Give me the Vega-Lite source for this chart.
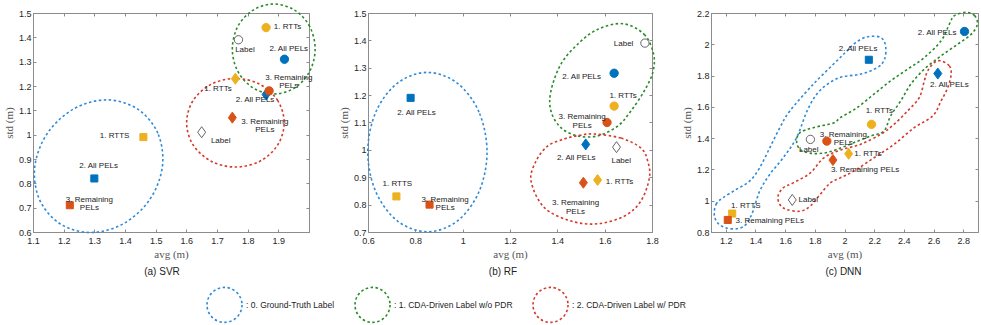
{
"$schema": "https://vega.github.io/schema/vega-lite/v6.json",
"background": "white",
"padding": {"left": 2, "top": 0, "right": 0, "bottom": 0},
"config": {
 "view": {"stroke": "#8c8c8c", "strokeWidth": 1},
 "axis": {"grid": false, "domainColor": "#8c8c8c", "tickColor": "#8c8c8c", "labelFont": "Liberation Sans", "labelFontSize": 9, "labelColor": "#262626", "titleFont": "Liberation Serif", "titleFontSize": 11, "titleFontWeight": "normal", "titleColor": "#555555", "tickSize": -3, "labelFlush": false, "labelOverlap": false, "format": "~g"},
 "axisX": {"labelPadding": 7, "titlePadding": 3},
 "axisY": {"labelPadding": 5, "titlePadding": 4},
 "title": {"font": "Liberation Sans", "fontSize": 10, "fontWeight": "normal", "color": "#222222", "orient": "bottom", "offset": 8}
},
"datasets": {
 "shapes": [
  {"p":"a","g":"0. Ground-Truth Label","i":0,"x":1.522,"y":0.870},
  {"p":"a","g":"0. Ground-Truth Label","i":1,"x":1.507,"y":1.006},
  {"p":"a","g":"0. Ground-Truth Label","i":2,"x":1.440,"y":1.106},
  {"p":"a","g":"0. Ground-Truth Label","i":3,"x":1.340,"y":1.143},
  {"p":"a","g":"0. Ground-Truth Label","i":4,"x":1.233,"y":1.106},
  {"p":"a","g":"0. Ground-Truth Label","i":5,"x":1.147,"y":1.006},
  {"p":"a","g":"0. Ground-Truth Label","i":6,"x":1.106,"y":0.870},
  {"p":"a","g":"0. Ground-Truth Label","i":7,"x":1.121,"y":0.734},
  {"p":"a","g":"0. Ground-Truth Label","i":8,"x":1.188,"y":0.634},
  {"p":"a","g":"0. Ground-Truth Label","i":9,"x":1.288,"y":0.598},
  {"p":"a","g":"0. Ground-Truth Label","i":10,"x":1.395,"y":0.634},
  {"p":"a","g":"0. Ground-Truth Label","i":11,"x":1.481,"y":0.734},
  {"p":"a","g":"1. CDA-Driven Label w/o PDR","i":0,"x":2.020,"y":1.352},
  {"p":"a","g":"1. CDA-Driven Label w/o PDR","i":1,"x":2.002,"y":1.445},
  {"p":"a","g":"1. CDA-Driven Label w/o PDR","i":2,"x":1.953,"y":1.512},
  {"p":"a","g":"1. CDA-Driven Label w/o PDR","i":3,"x":1.885,"y":1.537},
  {"p":"a","g":"1. CDA-Driven Label w/o PDR","i":4,"x":1.818,"y":1.512},
  {"p":"a","g":"1. CDA-Driven Label w/o PDR","i":5,"x":1.768,"y":1.445},
  {"p":"a","g":"1. CDA-Driven Label w/o PDR","i":6,"x":1.750,"y":1.352},
  {"p":"a","g":"1. CDA-Driven Label w/o PDR","i":7,"x":1.768,"y":1.260},
  {"p":"a","g":"1. CDA-Driven Label w/o PDR","i":8,"x":1.818,"y":1.192},
  {"p":"a","g":"1. CDA-Driven Label w/o PDR","i":9,"x":1.885,"y":1.167},
  {"p":"a","g":"1. CDA-Driven Label w/o PDR","i":10,"x":1.953,"y":1.192},
  {"p":"a","g":"1. CDA-Driven Label w/o PDR","i":11,"x":2.002,"y":1.260},
  {"p":"a","g":"2. CDA-Driven Label w/ PDR","i":0,"x":1.919,"y":1.049},
  {"p":"a","g":"2. CDA-Driven Label w/ PDR","i":1,"x":1.898,"y":1.140},
  {"p":"a","g":"2. CDA-Driven Label w/ PDR","i":2,"x":1.840,"y":1.207},
  {"p":"a","g":"2. CDA-Driven Label w/ PDR","i":3,"x":1.760,"y":1.231},
  {"p":"a","g":"2. CDA-Driven Label w/ PDR","i":4,"x":1.681,"y":1.207},
  {"p":"a","g":"2. CDA-Driven Label w/ PDR","i":5,"x":1.622,"y":1.140},
  {"p":"a","g":"2. CDA-Driven Label w/ PDR","i":6,"x":1.601,"y":1.049},
  {"p":"a","g":"2. CDA-Driven Label w/ PDR","i":7,"x":1.622,"y":0.958},
  {"p":"a","g":"2. CDA-Driven Label w/ PDR","i":8,"x":1.681,"y":0.891},
  {"p":"a","g":"2. CDA-Driven Label w/ PDR","i":9,"x":1.760,"y":0.867},
  {"p":"a","g":"2. CDA-Driven Label w/ PDR","i":10,"x":1.840,"y":0.891},
  {"p":"a","g":"2. CDA-Driven Label w/ PDR","i":11,"x":1.898,"y":0.958},

  {"p":"b","g":"0. Ground-Truth Label","i":0,"x":1.103,"y":0.992},
  {"p":"b","g":"0. Ground-Truth Label","i":1,"x":1.069,"y":1.138},
  {"p":"b","g":"0. Ground-Truth Label","i":2,"x":0.977,"y":1.244},
  {"p":"b","g":"0. Ground-Truth Label","i":3,"x":0.851,"y":1.283},
  {"p":"b","g":"0. Ground-Truth Label","i":4,"x":0.725,"y":1.244},
  {"p":"b","g":"0. Ground-Truth Label","i":5,"x":0.633,"y":1.138},
  {"p":"b","g":"0. Ground-Truth Label","i":6,"x":0.599,"y":0.992},
  {"p":"b","g":"0. Ground-Truth Label","i":7,"x":0.633,"y":0.847},
  {"p":"b","g":"0. Ground-Truth Label","i":8,"x":0.725,"y":0.740},
  {"p":"b","g":"0. Ground-Truth Label","i":9,"x":0.851,"y":0.701},
  {"p":"b","g":"0. Ground-Truth Label","i":10,"x":0.977,"y":0.740},
  {"p":"b","g":"0. Ground-Truth Label","i":11,"x":1.069,"y":0.847},
  {"p":"b","g":"1. CDA-Driven Label w/o PDR","i":0,"x":1.676,"y":1.461},
  {"p":"b","g":"1. CDA-Driven Label w/o PDR","i":1,"x":1.767,"y":1.422},
  {"p":"b","g":"1. CDA-Driven Label w/o PDR","i":2,"x":1.807,"y":1.349},
  {"p":"b","g":"1. CDA-Driven Label w/o PDR","i":3,"x":1.803,"y":1.282},
  {"p":"b","g":"1. CDA-Driven Label w/o PDR","i":4,"x":1.767,"y":1.215},
  {"p":"b","g":"1. CDA-Driven Label w/o PDR","i":5,"x":1.711,"y":1.142},
  {"p":"b","g":"1. CDA-Driven Label w/o PDR","i":6,"x":1.655,"y":1.087},
  {"p":"b","g":"1. CDA-Driven Label w/o PDR","i":7,"x":1.570,"y":1.051},
  {"p":"b","g":"1. CDA-Driven Label w/o PDR","i":8,"x":1.486,"y":1.051},
  {"p":"b","g":"1. CDA-Driven Label w/o PDR","i":9,"x":1.415,"y":1.081},
  {"p":"b","g":"1. CDA-Driven Label w/o PDR","i":10,"x":1.373,"y":1.142},
  {"p":"b","g":"1. CDA-Driven Label w/o PDR","i":11,"x":1.373,"y":1.215},
  {"p":"b","g":"1. CDA-Driven Label w/o PDR","i":12,"x":1.415,"y":1.313},
  {"p":"b","g":"1. CDA-Driven Label w/o PDR","i":13,"x":1.486,"y":1.386},
  {"p":"b","g":"1. CDA-Driven Label w/o PDR","i":14,"x":1.570,"y":1.440},
  {"p":"b","g":"2. CDA-Driven Label w/ PDR","i":0,"x":1.555,"y":1.058},
  {"p":"b","g":"2. CDA-Driven Label w/ PDR","i":1,"x":1.669,"y":1.043},
  {"p":"b","g":"2. CDA-Driven Label w/ PDR","i":2,"x":1.753,"y":1.007},
  {"p":"b","g":"2. CDA-Driven Label w/ PDR","i":3,"x":1.782,"y":0.959},
  {"p":"b","g":"2. CDA-Driven Label w/ PDR","i":4,"x":1.789,"y":0.898},
  {"p":"b","g":"2. CDA-Driven Label w/ PDR","i":5,"x":1.753,"y":0.813},
  {"p":"b","g":"2. CDA-Driven Label w/ PDR","i":6,"x":1.683,"y":0.758},
  {"p":"b","g":"2. CDA-Driven Label w/ PDR","i":7,"x":1.570,"y":0.730},
  {"p":"b","g":"2. CDA-Driven Label w/ PDR","i":8,"x":1.458,"y":0.740},
  {"p":"b","g":"2. CDA-Driven Label w/ PDR","i":9,"x":1.345,"y":0.789},
  {"p":"b","g":"2. CDA-Driven Label w/ PDR","i":10,"x":1.289,"y":0.886},
  {"p":"b","g":"2. CDA-Driven Label w/ PDR","i":11,"x":1.310,"y":0.959},
  {"p":"b","g":"2. CDA-Driven Label w/ PDR","i":12,"x":1.359,"y":1.014},
  {"p":"b","g":"2. CDA-Driven Label w/ PDR","i":13,"x":1.429,"y":1.040},
  {"p":"b","g":"2. CDA-Driven Label w/ PDR","i":14,"x":1.493,"y":1.053},

  {"p":"c","g":"0. Ground-Truth Label","i":0,"x":1.122,"y":0.912},
  {"p":"c","g":"0. Ground-Truth Label","i":1,"x":1.134,"y":0.976},
  {"p":"c","g":"0. Ground-Truth Label","i":2,"x":1.179,"y":1.018},
  {"p":"c","g":"0. Ground-Truth Label","i":3,"x":1.270,"y":1.072},
  {"p":"c","g":"0. Ground-Truth Label","i":4,"x":1.360,"y":1.125},
  {"p":"c","g":"0. Ground-Truth Label","i":5,"x":1.428,"y":1.210},
  {"p":"c","g":"0. Ground-Truth Label","i":6,"x":1.496,"y":1.338},
  {"p":"c","g":"0. Ground-Truth Label","i":7,"x":1.564,"y":1.467},
  {"p":"c","g":"0. Ground-Truth Label","i":8,"x":1.632,"y":1.574},
  {"p":"c","g":"0. Ground-Truth Label","i":9,"x":1.790,"y":1.745},
  {"p":"c","g":"0. Ground-Truth Label","i":10,"x":1.960,"y":1.905},
  {"p":"c","g":"0. Ground-Truth Label","i":11,"x":2.017,"y":1.958},
  {"p":"c","g":"0. Ground-Truth Label","i":12,"x":2.074,"y":2.010},
  {"p":"c","g":"0. Ground-Truth Label","i":13,"x":2.153,"y":2.048},
  {"p":"c","g":"0. Ground-Truth Label","i":14,"x":2.243,"y":2.044},
  {"p":"c","g":"0. Ground-Truth Label","i":15,"x":2.277,"y":1.990},
  {"p":"c","g":"0. Ground-Truth Label","i":16,"x":2.270,"y":1.905},
  {"p":"c","g":"0. Ground-Truth Label","i":17,"x":2.221,"y":1.851},
  {"p":"c","g":"0. Ground-Truth Label","i":18,"x":2.107,"y":1.809},
  {"p":"c","g":"0. Ground-Truth Label","i":19,"x":1.960,"y":1.785},
  {"p":"c","g":"0. Ground-Truth Label","i":20,"x":1.836,"y":1.706},
  {"p":"c","g":"0. Ground-Truth Label","i":21,"x":1.754,"y":1.587},
  {"p":"c","g":"0. Ground-Truth Label","i":22,"x":1.677,"y":1.403},
  {"p":"c","g":"0. Ground-Truth Label","i":23,"x":1.586,"y":1.274},
  {"p":"c","g":"0. Ground-Truth Label","i":24,"x":1.496,"y":1.168},
  {"p":"c","g":"0. Ground-Truth Label","i":25,"x":1.428,"y":1.061},
  {"p":"c","g":"0. Ground-Truth Label","i":26,"x":1.383,"y":0.933},
  {"p":"c","g":"0. Ground-Truth Label","i":27,"x":1.338,"y":0.851},
  {"p":"c","g":"0. Ground-Truth Label","i":28,"x":1.281,"y":0.822},
  {"p":"c","g":"0. Ground-Truth Label","i":29,"x":1.202,"y":0.826},
  {"p":"c","g":"0. Ground-Truth Label","i":30,"x":1.145,"y":0.858},
  {"p":"c","g":"1. CDA-Driven Label w/o PDR","i":0,"x":2.821,"y":2.204},
  {"p":"c","g":"1. CDA-Driven Label w/o PDR","i":1,"x":2.877,"y":2.183},
  {"p":"c","g":"1. CDA-Driven Label w/o PDR","i":2,"x":2.896,"y":2.129},
  {"p":"c","g":"1. CDA-Driven Label w/o PDR","i":3,"x":2.855,"y":2.065},
  {"p":"c","g":"1. CDA-Driven Label w/o PDR","i":4,"x":2.764,"y":2.001},
  {"p":"c","g":"1. CDA-Driven Label w/o PDR","i":5,"x":2.651,"y":1.926},
  {"p":"c","g":"1. CDA-Driven Label w/o PDR","i":6,"x":2.538,"y":1.841},
  {"p":"c","g":"1. CDA-Driven Label w/o PDR","i":7,"x":2.447,"y":1.745},
  {"p":"c","g":"1. CDA-Driven Label w/o PDR","i":8,"x":2.379,"y":1.638},
  {"p":"c","g":"1. CDA-Driven Label w/o PDR","i":9,"x":2.311,"y":1.542},
  {"p":"c","g":"1. CDA-Driven Label w/o PDR","i":10,"x":2.266,"y":1.446},
  {"p":"c","g":"1. CDA-Driven Label w/o PDR","i":11,"x":2.175,"y":1.413},
  {"p":"c","g":"1. CDA-Driven Label w/o PDR","i":12,"x":2.062,"y":1.371},
  {"p":"c","g":"1. CDA-Driven Label w/o PDR","i":13,"x":1.949,"y":1.328},
  {"p":"c","g":"1. CDA-Driven Label w/o PDR","i":14,"x":1.858,"y":1.304},
  {"p":"c","g":"1. CDA-Driven Label w/o PDR","i":15,"x":1.768,"y":1.304},
  {"p":"c","g":"1. CDA-Driven Label w/o PDR","i":16,"x":1.700,"y":1.328},
  {"p":"c","g":"1. CDA-Driven Label w/o PDR","i":17,"x":1.677,"y":1.381},
  {"p":"c","g":"1. CDA-Driven Label w/o PDR","i":18,"x":1.700,"y":1.435},
  {"p":"c","g":"1. CDA-Driven Label w/o PDR","i":19,"x":1.790,"y":1.467},
  {"p":"c","g":"1. CDA-Driven Label w/o PDR","i":20,"x":1.926,"y":1.497},
  {"p":"c","g":"1. CDA-Driven Label w/o PDR","i":21,"x":1.972,"y":1.531},
  {"p":"c","g":"1. CDA-Driven Label w/o PDR","i":22,"x":2.085,"y":1.595},
  {"p":"c","g":"1. CDA-Driven Label w/o PDR","i":23,"x":2.198,"y":1.681},
  {"p":"c","g":"1. CDA-Driven Label w/o PDR","i":24,"x":2.311,"y":1.766},
  {"p":"c","g":"1. CDA-Driven Label w/o PDR","i":25,"x":2.425,"y":1.841},
  {"p":"c","g":"1. CDA-Driven Label w/o PDR","i":26,"x":2.538,"y":1.915},
  {"p":"c","g":"1. CDA-Driven Label w/o PDR","i":27,"x":2.651,"y":2.022},
  {"p":"c","g":"1. CDA-Driven Label w/o PDR","i":28,"x":2.707,"y":2.129},
  {"p":"c","g":"1. CDA-Driven Label w/o PDR","i":29,"x":2.741,"y":2.183},
  {"p":"c","g":"2. CDA-Driven Label w/ PDR","i":0,"x":2.651,"y":1.894},
  {"p":"c","g":"2. CDA-Driven Label w/ PDR","i":1,"x":2.707,"y":1.862},
  {"p":"c","g":"2. CDA-Driven Label w/ PDR","i":2,"x":2.719,"y":1.809},
  {"p":"c","g":"2. CDA-Driven Label w/ PDR","i":3,"x":2.696,"y":1.723},
  {"p":"c","g":"2. CDA-Driven Label w/ PDR","i":4,"x":2.651,"y":1.638},
  {"p":"c","g":"2. CDA-Driven Label w/ PDR","i":5,"x":2.595,"y":1.542},
  {"p":"c","g":"2. CDA-Driven Label w/ PDR","i":6,"x":2.470,"y":1.467},
  {"p":"c","g":"2. CDA-Driven Label w/ PDR","i":7,"x":2.334,"y":1.360},
  {"p":"c","g":"2. CDA-Driven Label w/ PDR","i":8,"x":2.198,"y":1.274},
  {"p":"c","g":"2. CDA-Driven Label w/ PDR","i":9,"x":2.062,"y":1.189},
  {"p":"c","g":"2. CDA-Driven Label w/ PDR","i":10,"x":1.972,"y":1.146},
  {"p":"c","g":"2. CDA-Driven Label w/ PDR","i":11,"x":1.904,"y":1.114},
  {"p":"c","g":"2. CDA-Driven Label w/ PDR","i":12,"x":1.836,"y":1.040},
  {"p":"c","g":"2. CDA-Driven Label w/ PDR","i":13,"x":1.768,"y":0.965},
  {"p":"c","g":"2. CDA-Driven Label w/ PDR","i":14,"x":1.700,"y":0.933},
  {"p":"c","g":"2. CDA-Driven Label w/ PDR","i":15,"x":1.610,"y":0.944},
  {"p":"c","g":"2. CDA-Driven Label w/ PDR","i":16,"x":1.564,"y":0.976},
  {"p":"c","g":"2. CDA-Driven Label w/ PDR","i":17,"x":1.552,"y":1.029},
  {"p":"c","g":"2. CDA-Driven Label w/ PDR","i":18,"x":1.586,"y":1.082},
  {"p":"c","g":"2. CDA-Driven Label w/ PDR","i":19,"x":1.654,"y":1.114},
  {"p":"c","g":"2. CDA-Driven Label w/ PDR","i":20,"x":1.768,"y":1.176},
  {"p":"c","g":"2. CDA-Driven Label w/ PDR","i":21,"x":1.858,"y":1.272},
  {"p":"c","g":"2. CDA-Driven Label w/ PDR","i":22,"x":1.972,"y":1.324},
  {"p":"c","g":"2. CDA-Driven Label w/ PDR","i":23,"x":2.107,"y":1.360},
  {"p":"c","g":"2. CDA-Driven Label w/ PDR","i":24,"x":2.243,"y":1.424},
  {"p":"c","g":"2. CDA-Driven Label w/ PDR","i":25,"x":2.334,"y":1.488},
  {"p":"c","g":"2. CDA-Driven Label w/ PDR","i":26,"x":2.425,"y":1.574},
  {"p":"c","g":"2. CDA-Driven Label w/ PDR","i":27,"x":2.504,"y":1.659},
  {"p":"c","g":"2. CDA-Driven Label w/ PDR","i":28,"x":2.538,"y":1.766},
  {"p":"c","g":"2. CDA-Driven Label w/ PDR","i":29,"x":2.561,"y":1.830},
  {"p":"c","g":"2. CDA-Driven Label w/ PDR","i":30,"x":2.605,"y":1.883}
 ],
 "points": [
  {"p":"a","m":"ground truth","s":"RTTs","x":1.46,"y":0.99},
  {"p":"a","m":"ground truth","s":"All PELs","x":1.30,"y":0.82},
  {"p":"a","m":"ground truth","s":"Remaining PELs","x":1.22,"y":0.71},
  {"p":"a","m":"without PDR","s":"Label","x":1.77,"y":1.39},
  {"p":"a","m":"without PDR","s":"RTTs","x":1.86,"y":1.44},
  {"p":"a","m":"without PDR","s":"All PELs","x":1.92,"y":1.31},
  {"p":"a","m":"with PDR","s":"All PELs","x":1.86,"y":1.165},
  {"p":"a","m":"without PDR","s":"Remaining PELs","x":1.87,"y":1.18},
  {"p":"a","m":"with PDR","s":"RTTs","x":1.76,"y":1.23},
  {"p":"a","m":"with PDR","s":"Remaining PELs","x":1.75,"y":1.07},
  {"p":"a","m":"with PDR","s":"Label","x":1.65,"y":1.01},
  {"p":"b","m":"ground truth","s":"RTTs","x":0.72,"y":0.83},
  {"p":"b","m":"ground truth","s":"All PELs","x":0.78,"y":1.19},
  {"p":"b","m":"ground truth","s":"Remaining PELs","x":0.86,"y":0.80},
  {"p":"b","m":"without PDR","s":"Label","x":1.77,"y":1.39},
  {"p":"b","m":"without PDR","s":"All PELs","x":1.64,"y":1.28},
  {"p":"b","m":"without PDR","s":"RTTs","x":1.64,"y":1.16},
  {"p":"b","m":"without PDR","s":"Remaining PELs","x":1.61,"y":1.10},
  {"p":"b","m":"with PDR","s":"All PELs","x":1.52,"y":1.02},
  {"p":"b","m":"with PDR","s":"Label","x":1.65,"y":1.01},
  {"p":"b","m":"with PDR","s":"Remaining PELs","x":1.51,"y":0.88},
  {"p":"b","m":"with PDR","s":"RTTs","x":1.57,"y":0.89},
  {"p":"c","m":"ground truth","s":"RTTs","x":1.243,"y":0.918},
  {"p":"c","m":"ground truth","s":"Remaining PELs","x":1.213,"y":0.877},
  {"p":"c","m":"ground truth","s":"All PELs","x":2.164,"y":1.901},
  {"p":"c","m":"without PDR","s":"All PELs","x":2.809,"y":2.082},
  {"p":"c","m":"without PDR","s":"RTTs","x":2.182,"y":1.488},
  {"p":"c","m":"without PDR","s":"Remaining PELs","x":1.881,"y":1.381},
  {"p":"c","m":"without PDR","s":"Label","x":1.770,"y":1.392},
  {"p":"c","m":"with PDR","s":"All PELs","x":2.629,"y":1.813},
  {"p":"c","m":"with PDR","s":"RTTs","x":2.028,"y":1.300},
  {"p":"c","m":"with PDR","s":"Remaining PELs","x":1.922,"y":1.260},
  {"p":"c","m":"with PDR","s":"Label","x":1.648,"y":1.005}
 ],
 "labels": [
  {"p":"a","t":"1. RTTs","x":1.930,"y":1.442},
  {"p":"a","t":"Label","x":1.791,"y":1.347},
  {"p":"a","t":"2. All PELs","x":1.934,"y":1.352},
  {"p":"a","t":"3. Remaining\nPELs","x":1.934,"y":1.233},
  {"p":"a","t":"1. RTTs","x":1.703,"y":1.186},
  {"p":"a","t":"2. All PELs","x":1.824,"y":1.142},
  {"p":"a","t":"3. Remaining\nPELs","x":1.856,"y":1.054},
  {"p":"a","t":"Label","x":1.712,"y":0.974},
  {"p":"a","t":"1. RTTS","x":1.366,"y":0.994},
  {"p":"a","t":"2. All PELs","x":1.314,"y":0.871},
  {"p":"a","t":"3. Remaining\nPELs","x":1.284,"y":0.733},
  {"p":"b","t":"Label","x":1.680,"y":1.388},
  {"p":"b","t":"2. All PELs","x":1.503,"y":1.267},
  {"p":"b","t":"1. RTTs","x":1.678,"y":1.197},
  {"p":"b","t":"3. Remaining\nPELs","x":1.505,"y":1.119},
  {"p":"b","t":"2. All PELs","x":0.805,"y":1.136},
  {"p":"b","t":"2. All PELs","x":1.480,"y":0.969},
  {"p":"b","t":"Label","x":1.670,"y":0.959},
  {"p":"b","t":"1. RTTs","x":1.663,"y":0.884},
  {"p":"b","t":"3. Remaining\nPELs","x":1.477,"y":0.805},
  {"p":"b","t":"1. RTTS","x":0.724,"y":0.874},
  {"p":"b","t":"3. Remaining\nPELs","x":0.926,"y":0.818},
  {"p":"c","t":"2. All PELs","x":2.624,"y":2.069},
  {"p":"c","t":"2. All PELs","x":2.092,"y":1.973},
  {"p":"c","t":"2. All PELs","x":2.707,"y":1.738},
  {"p":"c","t":"1. RTTs","x":2.235,"y":1.574},
  {"p":"c","t":"3. Remaining\nPELs","x":1.992,"y":1.421},
  {"p":"c","t":"Label","x":1.759,"y":1.322},
  {"p":"c","t":"1. RTTs","x":2.158,"y":1.296},
  {"p":"c","t":"3. Remaining PELs","x":2.139,"y":1.195},
  {"p":"c","t":"Label","x":1.756,"y":1.003},
  {"p":"c","t":"1. RTTS","x":1.335,"y":0.965},
  {"p":"c","t":"3. Remaining PELs","x":1.496,"y":0.869}
 ]
},
"bounds": "flush",
"spacing": 59,
"resolve": {"scale": {"color": "shared"}, "legend": {"color": "shared"}},
"hconcat": [
 {
  "width": 276, "height": 219,
  "title": {"text": "(a) SVR", "dx": -9},
  "layer": [
   {"data": {"name": "shapes"}, "transform": [{"filter": "datum.p === 'a'"}],
    "mark": {"type": "line", "interpolate": "cardinal-closed", "strokeDash": [2.5, 2.5], "strokeWidth": 1.6, "clip": false},
    "encoding": {
     "x": {"field": "x", "type": "quantitative", "scale": {"domain": [1.1, 2.0], "nice": false, "zero": false}, "axis": {"orient": "top", "labels": false, "title": null, "domain": false, "values": [1.1,1.2,1.3,1.4,1.5,1.6,1.7,1.8,1.9]}},
     "y": {"field": "y", "type": "quantitative", "scale": {"domain": [0.6, 1.5], "nice": false, "zero": false}, "axis": {"orient": "right", "labels": false, "title": null, "domain": false, "values": [0.6,0.7,0.8,0.9,1.0,1.1,1.2,1.3,1.4,1.5]}},
     "color": {"field": "g", "type": "nominal", "scale": {"domain": ["0. Ground-Truth Label", "1. CDA-Driven Label w/o PDR", "2. CDA-Driven Label w/ PDR"], "range": ["#2F8AD8", "#2A8A2A", "#D43A2C"]},
      "legend": {"title": null, "orient": "none", "legendX": 173, "legendY": 273, "direction": "horizontal", "symbolType": "circle", "symbolSize": 1225, "symbolStrokeWidth": 1.6, "symbolDash": [2.5, 2.5], "symbolFillColor": "transparent", "labelExpr": "': ' + datum.label", "labelFont": "Liberation Sans", "labelFontSize": 8.5, "labelColor": "#222222", "labelOffset": 3, "columnPadding": 16, "padding": 0, "labelLimit": 300}},
     "order": {"field": "i", "type": "quantitative"}
    }},
   {"data": {"name": "points"}, "transform": [{"filter": "datum.p === 'a'"}],
    "mark": {"type": "point", "filled": true, "size": 69, "strokeWidth": 1, "opacity": 1, "fillOpacity": 1, "strokeOpacity": 1},
    "encoding": {
     "x": {"field": "x", "type": "quantitative", "scale": {"domain": [1.1, 2.0], "nice": false, "zero": false}, "axis": {"orient": "bottom", "title": "avg (m)", "values": [1.1,1.2,1.3,1.4,1.5,1.6,1.7,1.8,1.9]}},
     "y": {"field": "y", "type": "quantitative", "scale": {"domain": [0.6, 1.5], "nice": false, "zero": false}, "axis": {"orient": "left", "title": "std (m)", "values": [0.6,0.7,0.8,0.9,1.0,1.1,1.2,1.3,1.4,1.5]}},
     "shape": {"field": "m", "type": "nominal", "scale": {"domain": ["ground truth", "without PDR", "with PDR"], "range": ["M-0.85,-0.85H0.85V0.85H-0.85Z", "circle", "M0,-1.33L0.96,0L0,1.33L-0.96,0Z"]}, "legend": null},
     "fill": {"field": "s", "type": "nominal", "scale": {"domain": ["RTTs", "All PELs", "Remaining PELs", "Label"], "range": ["#EDB120", "#0072BD", "#D95319", "#FFFFFF"]}, "legend": null},
     "stroke": {"field": "s", "type": "nominal", "scale": {"domain": ["RTTs", "All PELs", "Remaining PELs", "Label"], "range": ["#EDB120", "#0072BD", "#D95319", "#666666"]}, "legend": null}
    }},
   {"data": {"name": "labels"}, "transform": [{"filter": "datum.p === 'a'"}],
    "mark": {"type": "text", "font": "Liberation Sans", "fontSize": 8, "align": "center", "baseline": "middle", "lineBreak": "\n", "lineHeight": 8.5, "color": "#222222"},
    "encoding": {
     "x": {"field": "x", "type": "quantitative", "scale": {"domain": [1.1, 2.0], "nice": false, "zero": false}, "axis": null},
     "y": {"field": "y", "type": "quantitative", "scale": {"domain": [0.6, 1.5], "nice": false, "zero": false}, "axis": null},
     "text": {"field": "t"}
    }}
  ],
  "resolve": {"axis": {"x": "independent", "y": "independent"}}
 },
 {
  "width": 284, "height": 219,
  "title": {"text": "(b) RF", "dx": -7},
  "layer": [
   {"data": {"name": "shapes"}, "transform": [{"filter": "datum.p === 'b'"}],
    "mark": {"type": "line", "interpolate": "cardinal-closed", "strokeDash": [2.5, 2.5], "strokeWidth": 1.6, "clip": false},
    "encoding": {
     "x": {"field": "x", "type": "quantitative", "scale": {"domain": [0.6, 1.8], "nice": false, "zero": false}, "axis": {"orient": "top", "labels": false, "title": null, "domain": false, "values": [0.6,0.8,1.0,1.2,1.4,1.6,1.8]}},
     "y": {"field": "y", "type": "quantitative", "scale": {"domain": [0.7, 1.5], "nice": false, "zero": false}, "axis": {"orient": "right", "labels": false, "title": null, "domain": false, "values": [0.7,0.8,0.9,1.0,1.1,1.2,1.3,1.4,1.5]}},
     "color": {"field": "g", "type": "nominal", "scale": {"domain": ["0. Ground-Truth Label", "1. CDA-Driven Label w/o PDR", "2. CDA-Driven Label w/ PDR"], "range": ["#2F8AD8", "#2A8A2A", "#D43A2C"]},
      "legend": {"title": null, "orient": "none", "legendX": 173, "legendY": 273, "direction": "horizontal", "symbolType": "circle", "symbolSize": 1225, "symbolStrokeWidth": 1.6, "symbolDash": [2.5, 2.5], "symbolFillColor": "transparent", "labelExpr": "': ' + datum.label", "labelFont": "Liberation Sans", "labelFontSize": 8.5, "labelColor": "#222222", "labelOffset": 3, "columnPadding": 16, "padding": 0, "labelLimit": 300}},
     "order": {"field": "i", "type": "quantitative"}
    }},
   {"data": {"name": "points"}, "transform": [{"filter": "datum.p === 'b'"}],
    "mark": {"type": "point", "filled": true, "size": 69, "strokeWidth": 1, "opacity": 1, "fillOpacity": 1, "strokeOpacity": 1},
    "encoding": {
     "x": {"field": "x", "type": "quantitative", "scale": {"domain": [0.6, 1.8], "nice": false, "zero": false}, "axis": {"orient": "bottom", "title": "avg (m)", "values": [0.6,0.8,1.0,1.2,1.4,1.6,1.8]}},
     "y": {"field": "y", "type": "quantitative", "scale": {"domain": [0.7, 1.5], "nice": false, "zero": false}, "axis": {"orient": "left", "title": "std (m)", "values": [0.7,0.8,0.9,1.0,1.1,1.2,1.3,1.4,1.5]}},
     "shape": {"field": "m", "type": "nominal", "scale": {"domain": ["ground truth", "without PDR", "with PDR"], "range": ["M-0.85,-0.85H0.85V0.85H-0.85Z", "circle", "M0,-1.33L0.96,0L0,1.33L-0.96,0Z"]}, "legend": null},
     "fill": {"field": "s", "type": "nominal", "scale": {"domain": ["RTTs", "All PELs", "Remaining PELs", "Label"], "range": ["#EDB120", "#0072BD", "#D95319", "#FFFFFF"]}, "legend": null},
     "stroke": {"field": "s", "type": "nominal", "scale": {"domain": ["RTTs", "All PELs", "Remaining PELs", "Label"], "range": ["#EDB120", "#0072BD", "#D95319", "#666666"]}, "legend": null}
    }},
   {"data": {"name": "labels"}, "transform": [{"filter": "datum.p === 'b'"}],
    "mark": {"type": "text", "font": "Liberation Sans", "fontSize": 8, "align": "center", "baseline": "middle", "lineBreak": "\n", "lineHeight": 8.5, "color": "#222222"},
    "encoding": {
     "x": {"field": "x", "type": "quantitative", "scale": {"domain": [0.6, 1.8], "nice": false, "zero": false}, "axis": null},
     "y": {"field": "y", "type": "quantitative", "scale": {"domain": [0.7, 1.5], "nice": false, "zero": false}, "axis": null},
     "text": {"field": "t"}
    }}
  ],
  "resolve": {"axis": {"x": "independent", "y": "independent"}}
 },
 {
  "width": 267, "height": 219,
  "title": {"text": "(c) DNN", "dx": -1},
  "layer": [
   {"data": {"name": "shapes"}, "transform": [{"filter": "datum.p === 'c'"}],
    "mark": {"type": "line", "interpolate": "cardinal-closed", "strokeDash": [2.5, 2.5], "strokeWidth": 1.6, "clip": false},
    "encoding": {
     "x": {"field": "x", "type": "quantitative", "scale": {"domain": [1.1, 2.9], "nice": false, "zero": false}, "axis": {"orient": "top", "labels": false, "title": null, "domain": false, "values": [1.2,1.4,1.6,1.8,2.0,2.2,2.4,2.6,2.8]}},
     "y": {"field": "y", "type": "quantitative", "scale": {"domain": [0.8, 2.2], "nice": false, "zero": false}, "axis": {"orient": "right", "labels": false, "title": null, "domain": false, "values": [0.8,1.0,1.2,1.4,1.6,1.8,2.0,2.2]}},
     "color": {"field": "g", "type": "nominal", "scale": {"domain": ["0. Ground-Truth Label", "1. CDA-Driven Label w/o PDR", "2. CDA-Driven Label w/ PDR"], "range": ["#2F8AD8", "#2A8A2A", "#D43A2C"]},
      "legend": {"title": null, "orient": "none", "legendX": 173, "legendY": 273, "direction": "horizontal", "symbolType": "circle", "symbolSize": 1225, "symbolStrokeWidth": 1.6, "symbolDash": [2.5, 2.5], "symbolFillColor": "transparent", "labelExpr": "': ' + datum.label", "labelFont": "Liberation Sans", "labelFontSize": 8.5, "labelColor": "#222222", "labelOffset": 3, "columnPadding": 16, "padding": 0, "labelLimit": 300}},
     "order": {"field": "i", "type": "quantitative"}
    }},
   {"data": {"name": "points"}, "transform": [{"filter": "datum.p === 'c'"}],
    "mark": {"type": "point", "filled": true, "size": 69, "strokeWidth": 1, "opacity": 1, "fillOpacity": 1, "strokeOpacity": 1},
    "encoding": {
     "x": {"field": "x", "type": "quantitative", "scale": {"domain": [1.1, 2.9], "nice": false, "zero": false}, "axis": {"orient": "bottom", "title": "avg (m)", "values": [1.2,1.4,1.6,1.8,2.0,2.2,2.4,2.6,2.8]}},
     "y": {"field": "y", "type": "quantitative", "scale": {"domain": [0.8, 2.2], "nice": false, "zero": false}, "axis": {"orient": "left", "title": "std (m)", "values": [0.8,1.0,1.2,1.4,1.6,1.8,2.0,2.2]}},
     "shape": {"field": "m", "type": "nominal", "scale": {"domain": ["ground truth", "without PDR", "with PDR"], "range": ["M-0.85,-0.85H0.85V0.85H-0.85Z", "circle", "M0,-1.33L0.96,0L0,1.33L-0.96,0Z"]}, "legend": null},
     "fill": {"field": "s", "type": "nominal", "scale": {"domain": ["RTTs", "All PELs", "Remaining PELs", "Label"], "range": ["#EDB120", "#0072BD", "#D95319", "#FFFFFF"]}, "legend": null},
     "stroke": {"field": "s", "type": "nominal", "scale": {"domain": ["RTTs", "All PELs", "Remaining PELs", "Label"], "range": ["#EDB120", "#0072BD", "#D95319", "#666666"]}, "legend": null}
    }},
   {"data": {"name": "labels"}, "transform": [{"filter": "datum.p === 'c'"}],
    "mark": {"type": "text", "font": "Liberation Sans", "fontSize": 8, "align": "center", "baseline": "middle", "lineBreak": "\n", "lineHeight": 8.5, "color": "#222222"},
    "encoding": {
     "x": {"field": "x", "type": "quantitative", "scale": {"domain": [1.1, 2.9], "nice": false, "zero": false}, "axis": null},
     "y": {"field": "y", "type": "quantitative", "scale": {"domain": [0.8, 2.2], "nice": false, "zero": false}, "axis": null},
     "text": {"field": "t"}
    }}
  ],
  "resolve": {"axis": {"x": "independent", "y": "independent"}}
 }
]
}
